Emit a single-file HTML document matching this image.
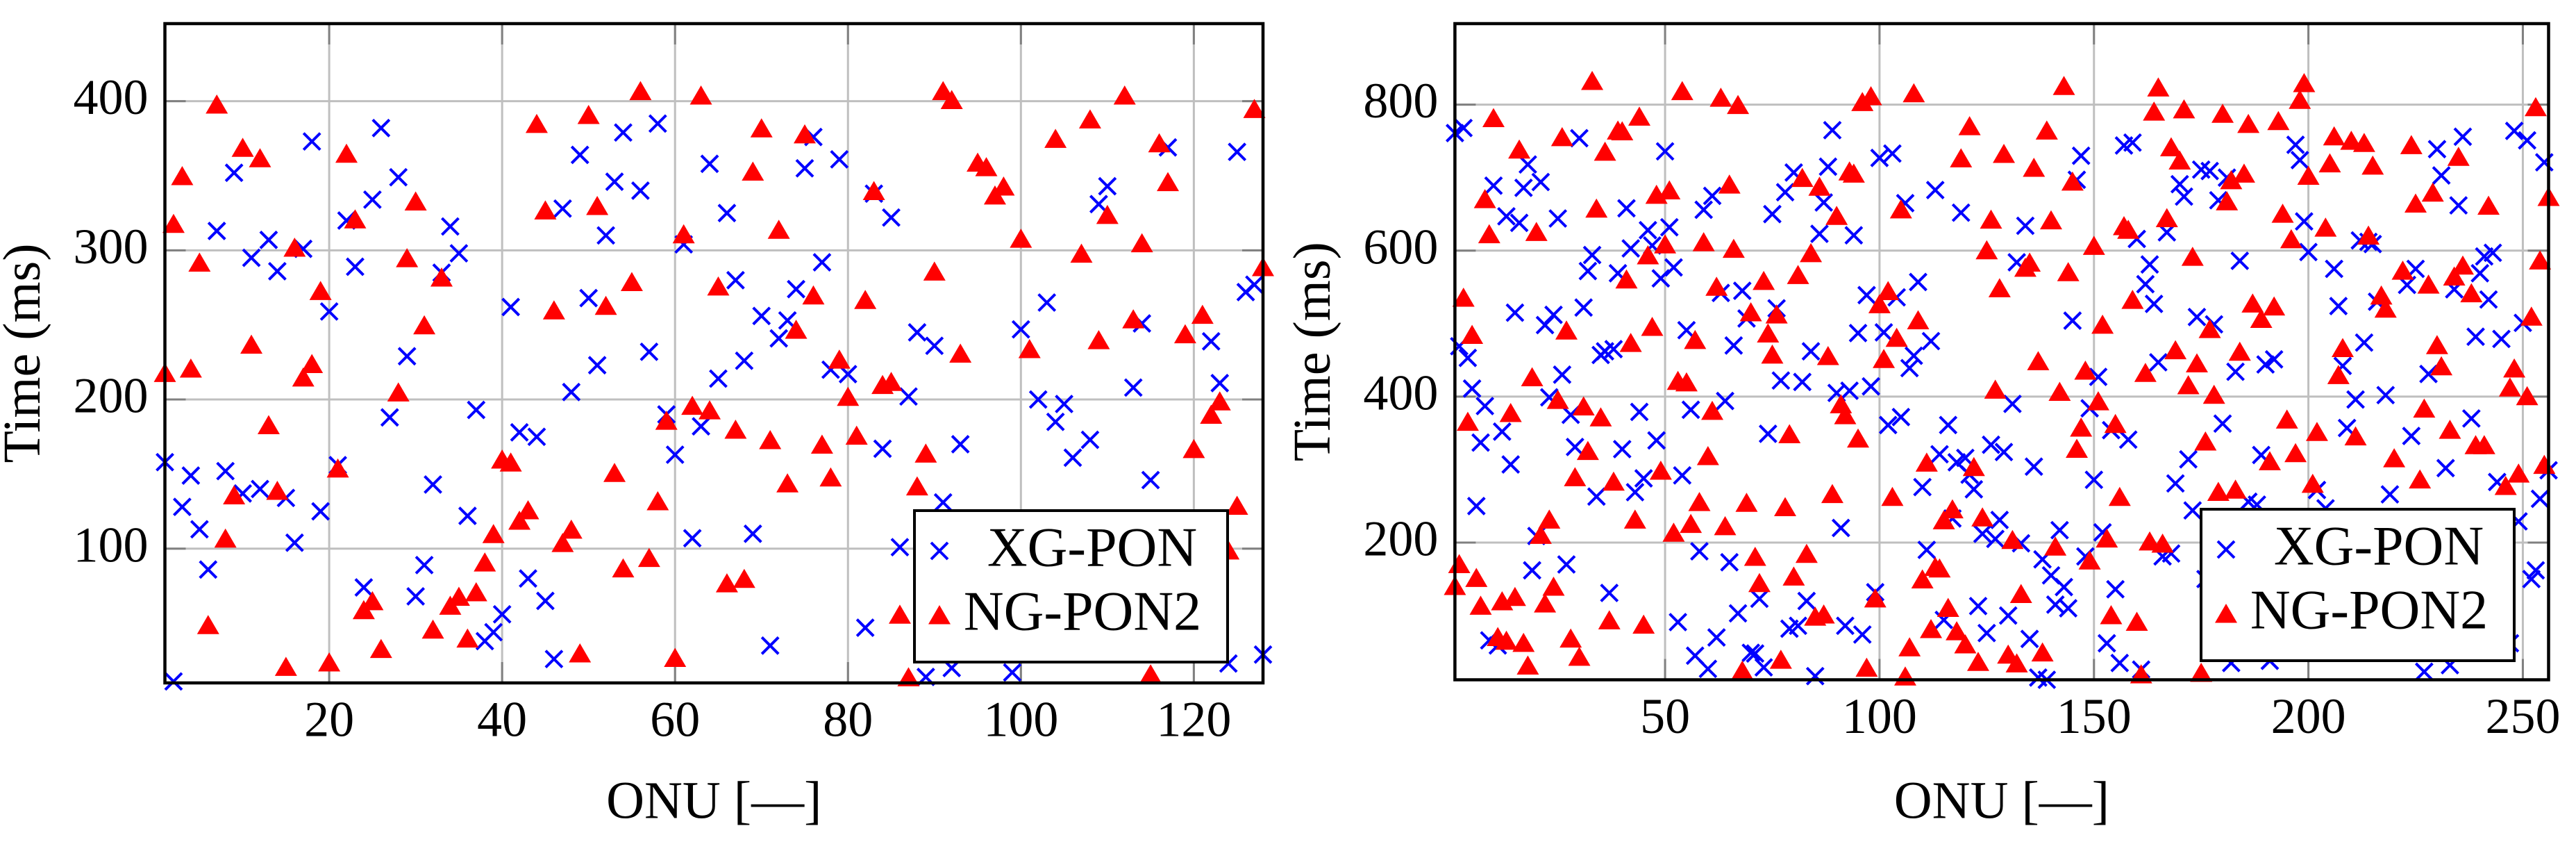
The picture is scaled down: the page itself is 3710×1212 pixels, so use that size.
<!DOCTYPE html>
<html><head><meta charset="utf-8"><title>ONU time scatter</title>
<style>
html,body{margin:0;padding:0;background:#fff;}
svg{display:block;}
text{font-family:"Liberation Serif",serif;fill:#000;}
</style></head>
<body>
<svg id="chart" width="3710" height="1212" viewBox="0 0 3710 1212" xmlns="http://www.w3.org/2000/svg"></svg>
<script>
// ---------- data ----------
const leftTicksX = [20, 40, 60, 80, 100, 120];
const leftTicksY = [100, 200, 300, 400];
const rightTicksX = [50, 100, 150, 200, 250];
const rightTicksY = [200, 400, 600, 800];
const leftOnu = [1,2,3,4,5,6,7,8,9,10,11,12,13,14,15,16,17,18,19,20,21,22,23,24,25,26,27,28,29,30,31,32,33,34,35,36,37,38,39,40,41,42,43,44,45,46,47,48,49,50,51,52,53,54,55,56,57,58,59,60,61,62,63,64,65,66,67,68,69,70,71,72,73,74,75,76,77,78,79,80,81,82,83,84,85,86,87,88,89,90,91,92,93,94,95,96,97,98,99,100,101,102,103,104,105,106,107,108,109,110,111,112,113,114,115,116,117,118,119,120,121,122,123,124,125,126,127,128];
const leftXg = [
158,11,128,149,113,86,313,152,352,137,
295,140,307,286,134,104,301,373,125,259,
156,320,289,74,334,382,188,349,229,68,
89,143,285,316,298,122,193,38,44,56,
262,178,80,175,65,26,328,205,364,268,
223,310,346,379,null,340,232,385,190,163,
304,107,182,358,214,325,280,226,110,256,
35,241,253,274,355,376,292,220,361,217,
null,47,338,167,322,101,202,245,14,236,
131,20,170,60,110,30,90,50,17,247,
80,200,265,185,197,161,40,173,331,343,
100,70,208,251,146,55,369,115,45,85,
35,239,211,23,366,272,277,29];
const leftNg = [
218,318,350,221,292,49,398,107,136,369,
237,362,183,139,21,302,215,224,273,24,
154,365,321,59,65,33,null,205,295,333,
250,46,282,62,68,40,71,91,110,160,
158,119,126,385,327,260,104,113,30,391,
330,263,151,87,279,407,94,132,186,27,
311,196,404,193,276,77,180,80,353,382,
173,314,144,247,378,270,170,148,227,202,
176,267,340,210,212,56,14,142,164,286,
407,401,231,120,359,356,337,343,80,308,
234,60,100,375,40,90,298,388,240,324,
70,404,254,305,16,372,346,50,244,167,
257,190,199,99,129,null,395,289];
const rightOnu = [1,2,3,4,5,6,7,8,9,10,11,12,13,14,15,16,17,18,19,20,21,22,23,24,25,26,27,28,29,30,31,32,33,34,35,36,37,38,39,40,41,42,43,44,45,46,47,48,49,50,51,52,53,54,55,56,57,58,59,60,61,62,63,64,65,66,67,68,69,70,71,72,73,74,75,76,77,78,79,80,81,82,83,84,85,86,87,88,89,90,91,92,93,94,95,96,97,98,99,100,101,102,103,104,105,106,107,108,109,110,111,112,113,114,115,116,117,118,119,120,121,122,123,124,125,126,127,128,129,130,131,132,133,134,135,136,137,138,139,140,141,142,143,144,145,146,147,148,149,150,151,152,153,154,155,156,157,158,159,160,161,162,163,164,165,166,167,168,169,170,171,172,173,174,175,176,177,178,179,180,181,182,183,184,185,186,187,188,189,190,191,192,193,194,195,196,197,198,199,200,201,202,203,204,205,206,207,208,209,210,211,212,213,214,215,216,217,218,219,220,221,222,223,224,225,226,227,228,229,230,231,232,233,234,235,236,237,238,239,240,241,242,243,244,245,246,247,248,249,250,251,252,253,254,255,256];
const rightXg = [
761,469,768,453,411,250,337,387,66,689,
59,352,647,307,515,638,686,718,162,209,
694,498,399,512,644,430,170,375,331,754,
522,572,594,263,457,462,131,465,569,328,
658,603,269,379,288,628,607,340,562,736,
632,577,91,292,491,382,45,188,656,27,
675,70,542,394,173,470,103,545,507,49,
48,123,29,349,650,521,422,680,82,707,
86,420,120,462,17,623,666,715,765,405,
220,86,408,621,487,74,539,414,132,727,
488,361,733,536,372,665,439,456,557,276,
190,476,683,321,94,361,233,310,652,316,
293,273,113,212,76,334,205,231,324,100,
390,584,199,634,68,304,15,177,12,155,
115,217,139,110,504,697,730,181,384,286,
427,214,62,354,136,35,744,341,748,616,
26,554,581,527,447,181,625,185,281,691,
674,314,244,509,711,150,709,499,669,363,
700,35,434,586,100,256,180,252,320,444,
38,451,120,200,60,140,745,724,640,598,
90,272,170,247,110,575,524,442,357,130,
396,614,474,612,609,530,80,402,266,200,
100,160,553,346,575,60,23,431,120,739,
703,302,32,547,662,756,90,370,482,569,
592,533,597,283,479,180,62,764,229,501,
751,150,162,260,721,299];
const rightNg = [
141,171,536,366,485,152,114,671,623,782,
71,120,66,378,126,739,63,32,427,626,
211,117,232,140,396,756,491,69,290,44,
387,326,833,658,372,736,94,284,765,764,
561,474,232,784,88,594,496,677,299,609,
683,214,422,819,420,226,478,256,612,319,
381,551,810,223,691,603,800,25,255,516,
181,145,559,487,458,513,40,249,349,154,
567,700,185,597,99,688,102,456,267,648,
390,375,709,706,343,804,29,812,124,527,
452,545,263,481,657,17,57,816,505,150,
310,82,167,165,231,111,246,79,727,61,
771,304,37,235,601,643,410,549,733,47,
204,35,130,577,584,714,449,50,765,642,
195,407,826,571,695,329,358,436,176,607,
394,499,206,101,363,263,634,629,533,92,
20,433,202,791,824,199,645,742,464,724,
794,416,592,446,22,339,493,403,270,788,
668,697,273,462,706,774,528,150,507,100,
312,524,778,651,369,616,323,807,830,703,
281,352,200,632,720,757,430,467,120,751,
346,180,748,621,717,90,539,521,150,316,
60,573,210,745,665,287,384,554,680,471,
442,110,355,565,729,580,190,542,334,70,
334,662,130,220,80,278,413,439,295,null,
401,510,797,587,307,674];

// ---------- drawing ----------
const NS = 'http://www.w3.org/2000/svg';
const svg = document.getElementById('chart');
function mk(tag, attrs, parent) {
  const e = document.createElementNS(NS, tag);
  for (const k in attrs) e.setAttribute(k, attrs[k]);
  (parent || svg).appendChild(e);
  return e;
}
const FS = 72;
const TFS = 76;

function drawPanel(cfg) {
  const g = mk('g', {});
  
  
  const L = cfg.left, R = cfg.right, T = cfg.top, B = cfg.bottom;
  const X = v => L + (v - cfg.xmin) * (R - L) / (cfg.xmax - cfg.xmin);
  const Y = v => B - (v - cfg.ymin) * (B - T) / (cfg.ymax - cfg.ymin);
  cfg.ticksX.forEach(t => {
    const l = mk('line', {x1: X(t), x2: X(t), y1: T, y2: B, stroke: '#bfbfbf', 'stroke-width': 3}, g);
    
    
    mk('line', {x1: X(t), x2: X(t), y1: T, y2: T + 30, stroke: '#808080', 'stroke-width': 3}, g);
    mk('line', {x1: X(t), x2: X(t), y1: B, y2: B - 30, stroke: '#808080', 'stroke-width': 3}, g);
    const tx = mk('text', {x: X(t), y: B + 60, 'font-size': FS, 'text-anchor': 'middle', 'dominant-baseline': 'middle'}, g);
    tx.textContent = t;
    
    
  });
  cfg.ticksY.forEach(t => {
    const l = mk('line', {x1: L, x2: R, y1: Y(t), y2: Y(t), stroke: '#bfbfbf', 'stroke-width': 3}, g);
    
    
    mk('line', {x1: L, x2: L + 30, y1: Y(t), y2: Y(t), stroke: '#808080', 'stroke-width': 3}, g);
    mk('line', {x1: R, x2: R - 30, y1: Y(t), y2: Y(t), stroke: '#808080', 'stroke-width': 3}, g);
    const tx = mk('text', {x: L - 24, y: Y(t) + 2, 'font-size': FS, 'text-anchor': 'end', 'dominant-baseline': 'middle'}, g);
    tx.textContent = t;
    
    
  });
  const gx = mk('g', {stroke: '#0000ff', 'stroke-width': 4, fill: 'none'}, g);
  
  
  cfg.cats.forEach((c, i) => {
    const v = cfg.xg[i];
    if (v === null || v === undefined) return;
    const cx = X(c), cy = Y(v), s = 12;
    const p = mk('path', {d: `M${cx - s},${cy - s}L${cx + s},${cy + s}M${cx - s},${cy + s}L${cx + s},${cy - s}`}, gx);
    
    
  });
  const gn = mk('g', {fill: '#ff0000'}, g);
  
  
  cfg.cats.forEach((c, i) => {
    const v = cfg.ng[i];
    if (v === null || v === undefined) return;
    const cx = X(c), cy = Y(v);
    const p = mk('path', {d: `M${cx},${cy - 14}L${cx + 16},${cy + 13.5}L${cx - 16},${cy + 13.5}Z`}, gn);
    
    
  });
  const fr = mk('rect', {x: L, y: T, width: R - L, height: B - T, fill: 'none', stroke: '#000', 'stroke-width': 4.5}, g);
  
  
  const xt = mk('text', {x: (L + R) / 2, y: 1160, 'font-size': TFS, 'text-anchor': 'middle', 'dominant-baseline': 'middle'}, g);
  xt.textContent = 'ONU [—]';
  
  
  const yx = L - 198, yy = (T + B) / 2;
  const yt = mk('text', {x: yx, y: yy, 'font-size': TFS, 'text-anchor': 'middle', 'dominant-baseline': 'middle', transform: `rotate(-90 ${yx} ${yy})`}, g);
  yt.textContent = 'Time (ms)';
  
  
  const lg = mk('g', {}, g);
  
  
  const lx = cfg.legX, ly = cfg.legY;
  mk('rect', {x: lx, y: ly, width: 451, height: 218, fill: '#fff', stroke: '#000', 'stroke-width': 4}, lg);
  const e1 = mk('g', {}, lg);
  
  
  const mx = lx + 36, r1 = ly + 58, r2 = ly + 150, s = 12;
  mk('path', {d: `M${mx - s},${r1 - s}L${mx + s},${r1 + s}M${mx - s},${r1 + s}L${mx + s},${r1 - s}`, stroke: '#0000ff', 'stroke-width': 4, fill: 'none'}, e1);
  const t1 = mk('text', {x: lx + 256, y: r1 + 3, 'font-size': 80, 'text-anchor': 'middle', 'dominant-baseline': 'middle'}, e1);
  t1.textContent = 'XG-PON';
  const e2 = mk('g', {}, lg);
  
  
  mk('path', {d: `M${mx},${r2 - 14}L${mx + 16},${r2 + 13.5}L${mx - 16},${r2 + 13.5}Z`, fill: '#ff0000'}, e2);
  const t2 = mk('text', {x: lx + 242, y: r2 + 3, 'font-size': 80, 'text-anchor': 'middle', 'dominant-baseline': 'middle'}, e2);
  t2.textContent = 'NG-PON2';
}

drawPanel({name: 'left-chart', left: 237.5, right: 1819, top: 34, bottom: 983,
  xmin: 1, xmax: 128, ymin: 10, ymax: 452,
  ticksX: leftTicksX, ticksY: leftTicksY,
  cats: leftOnu, xg: leftXg, ng: leftNg, legX: 1317, legY: 735});
drawPanel({name: 'right-chart', left: 2095.4, right: 3670.5, top: 34, bottom: 978.5,
  xmin: 1, xmax: 256, ymin: 12, ymax: 911,
  ticksX: rightTicksX, ticksY: rightTicksY,
  cats: rightOnu, xg: rightXg, ng: rightNg, legX: 3170, legY: 733});
</script>
</body></html>
